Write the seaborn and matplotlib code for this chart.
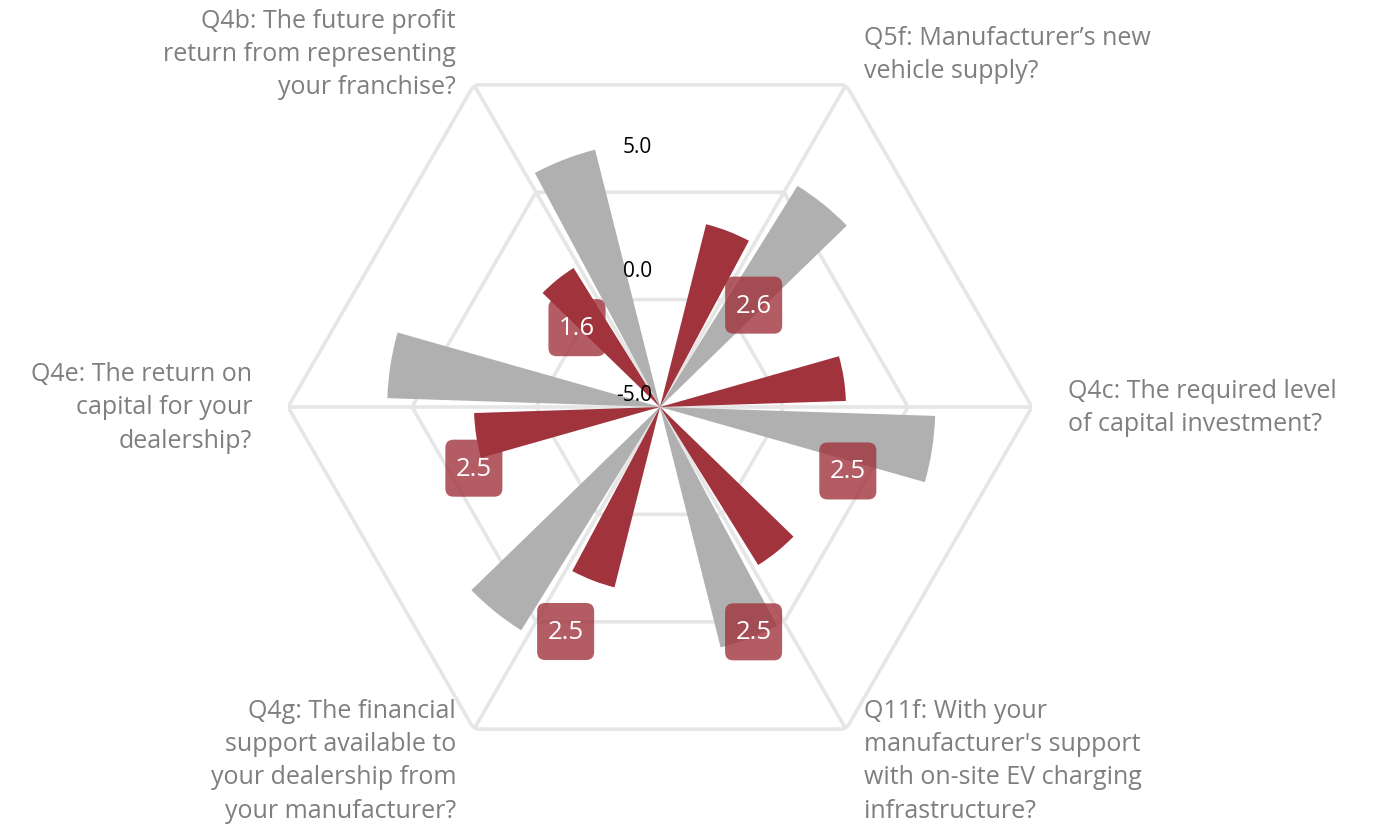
import numpy as np
import pandas as pd
import matplotlib
matplotlib.use("Agg")
import matplotlib.pyplot as plt
from matplotlib.patches import BoxStyle
import seaborn as sns

# ---- data -------------------------------------------------------------
categories = [
    "Q4c: The required level\nof capital investment?",
    "Q5f: Manufacturer\u2019s new\nvehicle supply?",
    "Q4b: The future profit\nreturn from representing\nyour franchise?",
    "Q4e: The return on\ncapital for your\ndealership?",
    "Q4g: The financial\nsupport available to\nyour dealership from\nyour manufacturer?",
    "Q11f: With your\nmanufacturer's support\nwith on-site EV charging\ninfrastructure?",
]
benchmark_scores = [6.1, 5.5, 5.7, 6.0, 5.6, 5.0]   # grey series
dealer_scores = [2.5, 2.6, 1.6, 2.5, 2.5, 2.5]      # red series (labelled)
radial_ticks = [-5.0, 0.0, 5.0]

# ---- style -----------------------------------------------------------
R_MIN, R_MAX = -5.0, 10.0
GREY = "#b0b0b0"
RED = "#a1333d"
GRID = "#e6e6e6"
TEXT_GREY = "#7f7f7f"

sns.set_theme(style="white")
plt.rcParams["font.family"] = ["Open Sans", "DejaVu Sans"]

n = len(categories)
theta = np.arange(n) * 2 * np.pi / n

df = pd.DataFrame({
    "theta": np.concatenate([theta, theta]),
    "value": benchmark_scores + dealer_scores,
    "series": ["benchmark"] * n + ["dealer"] * n,
})
# bars grow outward from the centre of the radial axis
df["height"] = df["value"] - R_MIN

fig = plt.figure(figsize=(13.74, 8.29), dpi=100)
ax = fig.add_axes([288 / 1374, 49 / 829, 744 / 1374, 744 / 829], projection="polar")

# hexagonal grid and spokes
ring_theta = np.append(theta, theta[0])
for r in [0.0, 5.0, 10.0]:
    ax.plot(ring_theta, [r] * len(ring_theta), color=GRID, lw=2.6, zorder=1,
            solid_joinstyle="miter")
for t in theta:
    ax.plot([t, t], [R_MIN, R_MAX], color=GRID, lw=2.6, zorder=1)

sns.barplot(
    data=df, x="theta", y="height", hue="series",
    hue_order=["benchmark", "dealer"], palette=[GREY, RED],
    native_scale=True, dodge=True, width=0.59, gap=0.21,
    saturation=1, errorbar=None, legend=False,
    bottom=R_MIN, linewidth=0, ax=ax, zorder=2,
)

ax.set_ylim(R_MIN, R_MAX)
ax.set_xticks([])
ax.set_yticks([])
ax.grid(False)
ax.spines["polar"].set_visible(False)
ax.set_xlabel("")
ax.set_ylabel("")
ax.patch.set_alpha(0)

# radial tick labels along the vertical axis
for v in radial_ticks:
    ax.annotate(f"{v:.1f}", xy=(np.pi / 2, v), xytext=(-6, 1.5),
                textcoords="offset points", ha="right", va="bottom",
                fontsize=15, color="black", zorder=5)

# category labels outside the outer ring
for t, name in zip(theta, categories):
    deg = np.degrees(t)
    ha = "left" if (deg < 90 or deg > 270) else "right"
    ax.text(t, 11.45, name, ha=ha, va="center", multialignment=ha,
            fontsize=18, color=TEXT_GREY, linespacing=1.43, clip_on=False)


def square_badge(x0, y0, width, height, mutation_size):
    """Rounded square of fixed size centred on the text."""
    side = 2.22 * mutation_size
    cx, cy = x0 + width / 2, y0 + height / 2
    return BoxStyle.Round(pad=0, rounding_size=0.32)(
        cx - side / 2, cy - side / 2, side, side, mutation_size)


# value badges for the red series
label_angle = [-18.8, 47.4, 136.3, 198.2, 247.2, 292.6]
label_radius = [3.0, 0.58, -0.37, 2.9, 4.82, 4.82]
badge_fc = matplotlib.colors.to_rgba(RED, 0.8)
for a, r, v in zip(label_angle, label_radius, dealer_scores):
    ax.text(np.radians(a), r, f"{v:.1f}", ha="center", va="center",
            fontsize=18.5, color="white", zorder=6,
            bbox=dict(boxstyle=square_badge, fc=badge_fc, ec="none"))

fig.savefig("out.png", dpi=100)
